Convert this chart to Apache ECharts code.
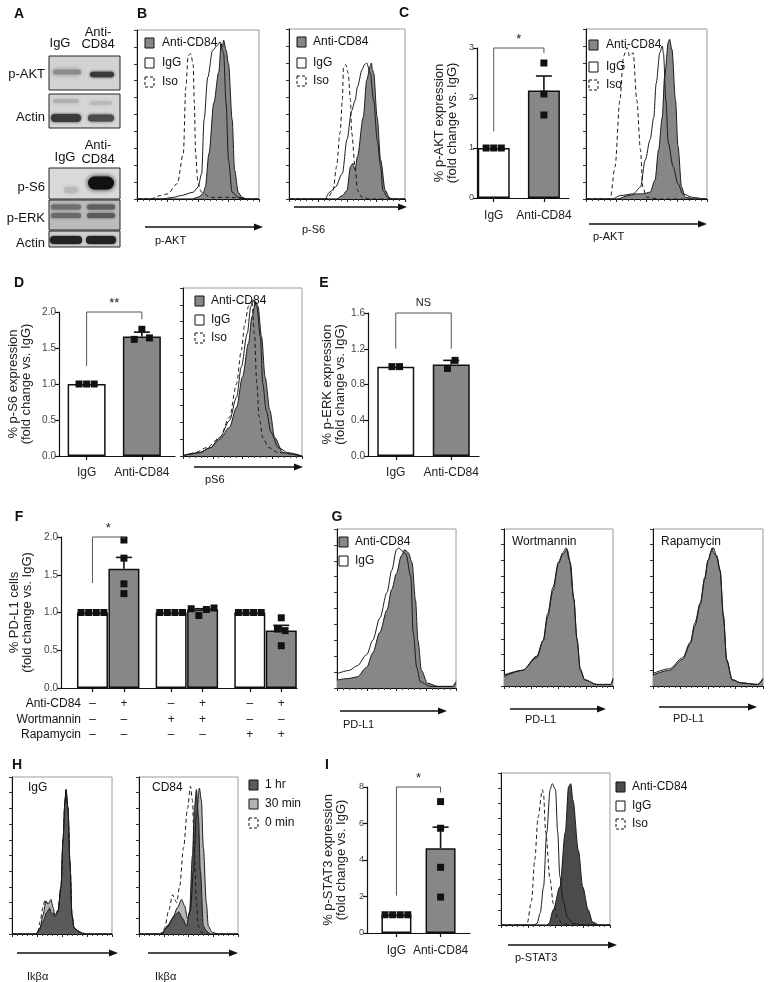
<!DOCTYPE html>
<html>
<head>
<meta charset="utf-8">
<script src="https://cdn.jsdelivr.net/npm/echarts@6/dist/echarts.min.js"></script>
<style>
  html, body { margin: 0; background: #fff; }
  #chart { width: 779px; height: 982px; }
</style>
</head>
<body>
<div id="chart"></div>
<script>
const FONT = '"Liberation Sans", Arial, Helvetica, sans-serif'

// ---------- bar chart data (fold change vs. IgG) ----------
const cLabels = ['IgG', 'Anti-CD84']
const cMeans = [1, 2.15]
const cErrTop = [1, 2.44]
const cPoints = [[1, 1, 1], [2.7, 2.08, 1.66]]
const cSig = [0, 1, 1.33, 3.0, 2.9, '*']

const dLabels = ['IgG', 'Anti-CD84']
const dMeans = [1, 1.66]
const dErrTop = [1, 1.72]
const dPoints = [[1, 1, 1], [1.62, 1.76, 1.64]]
const dSig = [0, 1, 1.25, 2.0, 1.9, '**']

const eLabels = ['IgG', 'Anti-CD84']
const eMeans = [1, 1.025]
const eErrTop = [1, 1.07]
const ePoints = [[1, 1], [0.98, 1.07]]
const eSig = [0, 1, 1.2, 1.6, 1.2, 'NS']

const fMeans = [1, 1.58, 1, 1.04, 1, 0.76]
const fErrTop = [1, 1.73, 1, 1.05, 1, 0.83]
const fPoints = [[1, 1, 1, 1], [1.96, 1.72, 1.38, 1.25], [1, 1, 1, 1], [1.05, 0.96, 1.04, 1.06], [1, 1, 1, 1], [0.93, 0.78, 0.76, 0.56]]
const fAnti = ['–', '+', '–', '+', '–', '+']
const fWort = ['–', '–', '+', '+', '–', '–']
const fRapa = ['–', '–', '–', '–', '+', '+']
const fSig = [0, 1, 1.39, 2.0, 1.97, '*']

const iLabels = ['IgG', 'Anti-CD84']
const iMeans = [1, 4.65]
const iErrTop = [1, 5.8]
const iPoints = [[1, 1, 1, 1], [7.2, 5.74, 3.6, 1.97]]
const iSig = [0, 1, 2.05, 8.0, 7.7, '*']

// ---------- flow histograms: [channel %, % of max] ----------
const b1Anti = [[0, 0], [45, 0], [50, 1], [54, 3], [56, 7], [59, 27], [63, 57], [67, 75], [69, 92], [70, 90], [71, 94], [73, 88], [75, 80], [78, 47], [80, 17], [83, 4], [86, 1], [90, 0], [100, 0]]
const b1IgG = [[0, 0], [20, 0], [30, 1], [36, 2], [46, 4], [50, 7], [53, 15], [55, 47], [58, 72], [62, 88], [66, 91], [68, 93], [69, 90], [71, 86], [73, 57], [75, 23], [78, 4], [83, 1], [90, 0], [100, 0]]
const b1Iso = [[0, 0], [11, 0], [19, 2], [25, 3], [33, 9], [38, 27], [40, 66], [42, 85], [44, 86], [46, 80], [47, 57], [48, 27], [50, 9], [53, 4], [60, 1], [75, 1], [90, 0], [100, 0]]

const b2Anti = [[0, 0], [41, 0], [46, 2], [50, 5], [53, 19], [55, 21], [57, 17], [59, 25], [64, 48], [67, 70], [70, 78], [71, 80], [72, 76], [73, 74], [76, 48], [79, 23], [83, 5], [87, 0], [100, 0]]
const b2IgG = [[0, 0], [31, 0], [35, 4], [40, 7], [46, 15], [50, 35], [54, 52], [57, 58], [59, 66], [63, 76], [65, 79], [67, 80], [70, 74], [73, 58], [76, 35], [79, 19], [81, 5], [85, 1], [90, 0], [100, 0]]
const b2Iso = [[0, 0], [33, 0], [38, 5], [41, 19], [44, 39], [46, 58], [47, 78], [49, 79], [51, 74], [53, 58], [54, 39], [57, 19], [59, 5], [63, 1], [70, 0], [100, 0]]

const cHAnti = [[0, 0], [26, 0], [35, 2], [42, 3], [47, 3], [53, 4], [57, 11], [60, 29], [63, 48], [65, 72], [68, 92], [69, 94], [71, 88], [74, 58], [76, 31], [79, 7], [82, 1], [90, 0], [100, 0]]
const cHIgG = [[0, 0], [22, 0], [28, 2], [39, 3], [45, 7], [49, 23], [53, 35], [56, 48], [58, 68], [61, 86], [63, 90], [64, 86], [66, 58], [68, 33], [72, 19], [76, 9], [80, 3], [88, 1], [98, 0], [100, 0]]
const cHIso = [[0, 0], [20, 0], [24, 19], [28, 58], [31, 84], [34, 89], [36, 84], [39, 86], [42, 58], [45, 29], [47, 7], [50, 1], [60, 0], [100, 0]]

const dHAnti = [[0, 0], [4, 1], [14, 2], [23, 5], [31, 10], [39, 17], [45, 29], [50, 47], [55, 67], [58, 83], [61, 92], [63, 89], [66, 71], [69, 47], [73, 27], [77, 11], [84, 2], [92, 1], [100, 0]]
const dHIgG = [[0, 0], [4, 1], [14, 2], [23, 5], [31, 11], [39, 21], [45, 35], [49, 53], [54, 73], [57, 89], [59, 93], [62, 89], [65, 71], [67, 43], [70, 27], [74, 14], [80, 5], [88, 2], [100, 0]]
const dHIso = [[0, 0], [4, 1], [10, 2], [20, 5], [31, 11], [39, 23], [45, 43], [49, 63], [52, 79], [55, 89], [58, 91], [60, 73], [62, 43], [64, 23], [67, 11], [72, 5], [80, 2], [100, 0]]

const g1Anti = [[0, 5], [10, 6], [17, 7], [25, 13], [30, 22], [36, 35], [42, 49], [46, 62], [50, 72], [54, 83], [57, 87], [60, 85], [63, 79], [66, 55], [68, 30], [71, 11], [76, 3], [85, 1], [97, 1], [100, 4]]
const g1IgG = [[0, 9], [10, 11], [17, 14], [25, 21], [30, 30], [36, 44], [42, 60], [46, 74], [50, 87], [52, 88], [55, 86], [58, 84], [62, 70], [64, 35], [67, 13], [70, 4], [78, 1], [97, 1], [100, 3]]
const g2Anti = [[0, 7], [17, 10], [30, 19], [36, 29], [40, 44], [45, 61], [50, 78], [54, 84], [58, 87], [61, 78], [64, 55], [67, 29], [70, 10], [74, 4], [85, 1], [98, 1], [100, 5]]
const g2IgG = [[0, 6], [17, 10], [30, 18], [36, 29], [40, 46], [45, 63], [50, 79], [54, 85], [57, 88], [60, 80], [64, 56], [67, 30], [70, 11], [74, 4], [85, 1], [98, 1], [100, 4]]
const g3Anti = [[0, 7], [15, 10], [27, 17], [34, 27], [38, 38], [43, 52], [47, 68], [50, 80], [54, 88], [55, 85], [58, 83], [61, 74], [64, 45], [67, 17], [72, 4], [80, 2], [95, 1], [100, 5]]
const g3IgG = [[0, 8], [15, 11], [27, 18], [34, 28], [38, 40], [43, 53], [47, 69], [50, 80], [53, 86], [55, 88], [58, 82], [61, 73], [64, 44], [67, 16], [72, 4], [80, 2], [95, 1], [100, 4]]

const h1Hr1 = [[0, 0], [24, 0], [27, 2], [31, 8], [35, 14], [37, 16], [40, 13], [43, 11], [46, 14], [49, 30], [51, 60], [53, 85], [54, 92], [56, 80], [58, 45], [60, 12], [62, 4], [64, 3], [68, 1], [72, 0], [100, 0]]
const h1Min30 = [[0, 0], [24, 0], [28, 4], [31, 12], [34, 21], [36, 19], [39, 22], [41, 17], [43, 12], [46, 15], [49, 30], [51, 60], [53, 85], [54, 92], [56, 80], [58, 45], [60, 12], [62, 4], [66, 2], [72, 0], [100, 0]]
const h1Min0 = [[0, 0], [26, 0], [28, 8], [31, 17], [33, 22], [35, 20], [37, 17], [40, 14], [43, 12], [46, 15], [49, 30], [51, 60], [53, 85], [54, 90], [56, 80], [58, 45], [60, 12], [62, 4], [68, 1], [75, 0], [100, 0]]
const h2Hr1 = [[0, 0], [20, 0], [24, 1], [30, 6], [36, 12], [40, 14], [44, 10], [48, 5], [51, 14], [54, 50], [56, 80], [58, 92], [60, 75], [62, 40], [65, 5], [68, 2], [72, 0], [100, 0]]
const h2Min30 = [[0, 0], [22, 0], [28, 4], [34, 10], [39, 17], [43, 22], [46, 18], [49, 10], [52, 15], [55, 40], [58, 75], [61, 93], [63, 85], [65, 55], [68, 20], [70, 5], [74, 1], [80, 0], [100, 0]]
const h2Min0 = [[0, 0], [24, 0], [26, 4], [30, 15], [34, 25], [36, 22], [38, 20], [41, 30], [45, 55], [49, 80], [52, 94], [54, 85], [56, 50], [58, 20], [60, 5], [63, 1], [70, 0], [100, 0]]

const iHAnti = [[0, 0], [42, 0], [44, 1], [48, 10], [54, 25], [59, 61], [62, 91], [64, 93], [66, 82], [71, 49], [75, 25], [80, 10], [84, 2], [90, 0], [100, 0]]
const iHIgG = [[0, 0], [30, 0], [33, 1], [36, 8], [39, 25], [42, 61], [45, 89], [47, 93], [50, 89], [52, 61], [54, 32], [57, 16], [61, 5], [66, 1], [75, 0], [100, 0]]
const iHIso = [[0, 0], [22, 0], [24, 1], [28, 16], [31, 43], [34, 71], [38, 89], [39, 86], [41, 61], [45, 30], [48, 14], [52, 5], [56, 1], [65, 0], [100, 0]]

// ---------- builders ----------
const grid = []
const xAxis = []
const yAxis = []
const series = []
const graphic = []

const GRAY = '#878787'
const DARK = '#4b4b4b'
const LIGHT = '#b4b4b4'

// points with overlapping values are spread sideways, like a scatter dot plot
function spreadPoints(vals, pxPerUnit) {
  const order = vals.map((v, k) => k).sort((a, b) => vals[a] - vals[b])
  const groups = []
  let cur = [order[0]]
  for (let n = 1; n < order.length; n++) {
    if ((vals[order[n]] - vals[order[n - 1]]) * pxPerUnit < 9) cur.push(order[n])
    else { groups.push(cur); cur = [order[n]] }
  }
  groups.push(cur)
  const dx = new Array(vals.length).fill(0)
  groups.forEach((g) => {
    g.sort((a, b) => a - b)
    g.forEach((k, j) => { dx[k] = (j - (g.length - 1) / 2) * 7.6 })
  })
  return dx
}

function addBarPanel(p) {
  const gi = grid.length
  grid.push({ left: p.box[0], top: p.box[1], width: p.box[2], height: p.box[3], outerBoundsMode: 'none' })
  const labelAt = {}
  p.slots.forEach((s, k) => { labelAt['s' + s] = p.labels[k] })
  const shown = (i) => p.slots.includes(i)
  xAxis.push({
    type: 'category', gridIndex: gi, boundaryGap: false,
    data: Array.from({ length: p.nSlots }, (_, i) => 's' + i),
    axisLine: { lineStyle: { color: '#111', width: 1.2 } },
    axisTick: { interval: shown, length: 4, lineStyle: { color: '#111', width: 1.2 } },
    axisLabel: {
      interval: shown, formatter: (v) => labelAt[v] || '',
      color: '#222', fontSize: 12, fontFamily: FONT, margin: p.catMargin || 10,
      lineHeight: p.catLineHeight || 14,
    },
    splitLine: { show: false },
  })
  yAxis.push({
    type: 'value', gridIndex: gi, min: 0, max: p.max, interval: p.interval,
    axisLine: { show: true, lineStyle: { color: '#111', width: 1.2 } },
    axisTick: { show: true, length: 4, lineStyle: { color: '#111', width: 1.2 } },
    axisLabel: { formatter: (v) => v.toFixed(p.decimals), color: '#444', fontSize: p.tickSize || 10, fontFamily: FONT, margin: 3 },
    splitLine: { show: false },
    name: p.yName, nameLocation: 'middle', nameRotate: 90, nameGap: p.nameGap,
    nameTextStyle: { color: '#222', fontSize: 13, lineHeight: 13, fontFamily: FONT },
  })
  series.push({
    type: 'bar', xAxisIndex: gi, yAxisIndex: gi, barWidth: p.barWidth, animation: false, z: 2,
    itemStyle: { borderColor: '#111', borderWidth: 1.5 },
    data: p.means.map((m, k) => ({ value: [p.slots[k], m], itemStyle: { color: p.colors[k] } })),
  })
  series.push({
    type: 'custom', xAxisIndex: gi, yAxisIndex: gi, animation: false, z: 3, clip: false,
    data: p.means.map((m, k) => [p.slots[k], m, p.errTop[k]]).filter((d) => d[2] > d[1]),
    renderItem: (params, api) => {
      const a = api.coord([api.value(0), api.value(1)])
      const b = api.coord([api.value(0), api.value(2)])
      const st = { stroke: '#111', lineWidth: 1.6 }
      return {
        type: 'group', children: [
          { type: 'line', shape: { x1: a[0], y1: a[1], x2: b[0], y2: b[1] }, style: st },
          { type: 'line', shape: { x1: b[0] - 8, y1: b[1], x2: b[0] + 8, y2: b[1] }, style: st },
        ],
      }
    },
  })
  const pxPerUnit = p.box[3] / p.max
  const pts = []
  p.points.forEach((vals, k) => {
    const dx = spreadPoints(vals, pxPerUnit)
    vals.forEach((v, j) => pts.push([p.slots[k], v, dx[j]]))
  })
  series.push({
    type: 'custom', xAxisIndex: gi, yAxisIndex: gi, animation: false, z: 4, clip: false,
    data: pts,
    renderItem: (params, api) => {
      const c = api.coord([api.value(0), api.value(1)])
      return { type: 'rect', shape: { x: c[0] + api.value(2) - 3.5, y: c[1] - 3.5, width: 7, height: 7 }, style: { fill: '#111' } }
    },
  })
  const s = p.sig
  series.push({
    type: 'custom', xAxisIndex: gi, yAxisIndex: gi, animation: false, z: 4, clip: false,
    data: [[p.slots[s[0]], s[2], s[3], p.slots[s[1]], s[4]]],
    renderItem: (params, api) => {
      const a = api.coord([api.value(0), api.value(1)])
      const t1 = api.coord([api.value(0), api.value(2)])
      const t2 = api.coord([api.value(3), api.value(2)])
      const b = api.coord([api.value(3), api.value(4)])
      return {
        type: 'group', children: [
          { type: 'polyline', shape: { points: [a, t1, t2, b] }, style: { stroke: '#555', lineWidth: 1, fill: 'none' } },
          {
            type: 'text', x: (t1[0] + t2[0]) / 2, y: t1[1] - (s[5] === 'NS' ? 5 : 2),
            style: { text: s[5], font: `${s[5] === 'NS' ? 11 : 13}px ${FONT}`, fill: '#222', align: 'center', verticalAlign: 'bottom' },
          },
        ],
      }
    },
  })
}

function addHist(box, curves) {
  const gi = grid.length
  grid.push({ left: box[0], top: box[1], width: box[2], height: box[3], show: true, borderColor: '#9c9c9c', borderWidth: 1, outerBoundsMode: 'none' })
  xAxis.push({
    type: 'value', gridIndex: gi, min: 0, max: 100, interval: 25,
    axisLine: { lineStyle: { color: '#111', width: 1.2 } },
    axisTick: { length: 3, lineStyle: { color: '#222' } },
    minorTick: { show: true, splitNumber: 5, length: 2, lineStyle: { color: '#444' } },
    axisLabel: { show: false }, splitLine: { show: false }, minorSplitLine: { show: false },
  })
  yAxis.push({
    type: 'value', gridIndex: gi, min: 0, max: 100, interval: 10,
    axisLine: { show: true, lineStyle: { color: '#111', width: 1 } },
    axisTick: { show: true, length: 3, lineStyle: { color: '#333' } },
    axisLabel: { show: false }, splitLine: { show: false },
  })
  curves.forEach((c) => series.push({
    type: 'line', name: c.name, xAxisIndex: gi, yAxisIndex: gi, data: c.data,
    symbol: 'none', smooth: 0.3, smoothMonotone: 'x', animation: false, z: 2,
    lineStyle: { color: '#1a1a1a', width: 1, type: c.dashed ? [4, 3] : 'solid' },
    areaStyle: c.fill ? { color: c.fill, opacity: 1 } : undefined,
  }))
}

function txt(text, x, y, size, opt = {}) {
  graphic.push({
    type: 'text', x, y, z: 100,
    style: { text, fill: opt.fill || '#111', font: `${opt.bold ? 'bold ' : ''}${size}px ${FONT}`, align: opt.align || 'left', verticalAlign: 'middle' },
  })
}

function arrow(x1, x2, y) {
  graphic.push({ type: 'line', z: 100, shape: { x1, y1: y, x2: x2 - 6, y2: y }, style: { stroke: '#111', lineWidth: 1.6 } })
  graphic.push({ type: 'polygon', z: 100, shape: { points: [[x2 - 9, y - 3.5], [x2, y], [x2 - 9, y + 3.5]] }, style: { fill: '#111' } })
}

function legend(x, ys, items, textX) {
  items.forEach((it, k) => {
    graphic.push({
      type: 'rect', z: 100, shape: { x, y: ys[k] - 5, width: 9, height: 10 },
      style: { fill: it.fill || '#fff', stroke: '#111', lineWidth: 1, lineDash: it.dashed ? [3, 2] : null },
    })
    txt(it.name, textX, ys[k], 12)
  })
}

function blot(x, y, w, h, bg, bands) {
  graphic.push({ type: 'rect', z: 90, shape: { x, y, width: w, height: h }, style: { fill: bg, stroke: '#222', lineWidth: 1 } })
  bands.forEach((b) => graphic.push({
    type: 'rect', z: 91,
    shape: { x: b[0] - b[2], y: b[1] - b[3], width: 2 * b[2], height: 2 * b[3], r: b[3] },
    style: { fill: b[4], shadowBlur: b[5] || 4, shadowColor: b[4] },
  }))
}

// ---------- panels ----------
const antiLeg = { name: 'Anti-CD84', fill: GRAY }
const iggLeg = { name: 'IgG' }
const isoLeg = { name: 'Iso', dashed: true }

// B
addHist([137, 30, 122, 169], [
  { name: 'Anti-CD84', data: b1Anti, fill: GRAY },
  { name: 'IgG', data: b1IgG },
  { name: 'Iso', data: b1Iso, dashed: true },
])
addHist([289, 29, 116, 170], [
  { name: 'Anti-CD84', data: b2Anti, fill: GRAY },
  { name: 'IgG', data: b2IgG },
  { name: 'Iso', data: b2Iso, dashed: true },
])
// C
addBarPanel({
  box: [477, 48, 92, 150], nSlots: 12, slots: [2, 8], barWidth: 32,
  labels: cLabels, means: cMeans, errTop: cErrTop, points: cPoints, sig: cSig,
  colors: ['#fff', GRAY], max: 3, interval: 1, decimals: 0, tickSize: 9,
  yName: '% p-AKT expression\n(fold change vs. IgG)', nameGap: 18, catMargin: 11,
})
addHist([586, 29, 121, 170], [
  { name: 'Anti-CD84', data: cHAnti, fill: GRAY },
  { name: 'IgG', data: cHIgG },
  { name: 'Iso', data: cHIso, dashed: true },
])
// D
addBarPanel({
  box: [59, 312, 116, 144], nSlots: 22, slots: [5, 15], barWidth: 38,
  labels: dLabels, means: dMeans, errTop: dErrTop, points: dPoints, sig: dSig,
  colors: ['#fff', GRAY], max: 2, interval: 0.5, decimals: 1,
  yName: '% p-S6 expression\n(fold change vs. IgG)', nameGap: 26,
})
addHist([183, 288, 119, 168], [
  { name: 'Anti-CD84', data: dHAnti, fill: GRAY },
  { name: 'IgG', data: dHIgG },
  { name: 'Iso', data: dHIso, dashed: true },
])
// E
addBarPanel({
  box: [368, 313, 111, 143], nSlots: 5, slots: [1, 3], barWidth: 37,
  labels: eLabels, means: eMeans, errTop: eErrTop, points: ePoints, sig: eSig,
  colors: ['#fff', GRAY], max: 1.6, interval: 0.4, decimals: 1,
  yName: '% p-ERK expression\n(fold change vs. IgG)', nameGap: 21,
})
// F
addBarPanel({
  box: [61, 537, 236, 151], nSlots: 16, slots: [2, 4, 7, 9, 12, 14], barWidth: 31,
  labels: fAnti.map((a, k) => `${a}\n${fWort[k]}\n${fRapa[k]}`),
  means: fMeans, errTop: fErrTop, points: fPoints, sig: fSig,
  colors: ['#fff', GRAY, '#fff', GRAY, '#fff', GRAY], max: 2, interval: 0.5, decimals: 1,
  yName: '% PD-L1 cells\n(fold change vs. IgG)', nameGap: 27, catMargin: 8, catLineHeight: 15.5,
})
// G
addHist([337, 529, 119, 159], [
  { name: 'Anti-CD84', data: g1Anti, fill: GRAY },
  { name: 'IgG', data: g1IgG },
])
addHist([504, 529, 109, 157], [
  { name: 'Anti-CD84', data: g2Anti, fill: GRAY },
  { name: 'IgG', data: g2IgG },
])
addHist([653, 529, 110, 157], [
  { name: 'Anti-CD84', data: g3Anti, fill: GRAY },
  { name: 'IgG', data: g3IgG },
])
// H
addHist([12, 777, 100, 157], [
  { name: '30 min', data: h1Min30, fill: LIGHT },
  { name: '1 hr', data: h1Hr1, fill: '#5a5a5a' },
  { name: '0 min', data: h1Min0, dashed: true },
])
addHist([139, 777, 99, 157], [
  { name: '30 min', data: h2Min30, fill: LIGHT },
  { name: '1 hr', data: h2Hr1, fill: '#5a5a5a' },
  { name: '0 min', data: h2Min0, dashed: true },
])
// I
addBarPanel({
  box: [367, 787, 103, 146], nSlots: 8, slots: [2, 5], barWidth: 30,
  labels: iLabels, means: iMeans, errTop: iErrTop, points: iPoints, sig: iSig,
  colors: ['#fff', GRAY], max: 8, interval: 2, decimals: 0, tickSize: 9,
  yName: '% p-STAT3 expression\n(fold change vs. IgG)', nameGap: 19, catMargin: 11,
})
addHist([501, 773, 109, 152], [
  { name: 'Anti-CD84', data: iHAnti, fill: DARK },
  { name: 'IgG', data: iHIgG },
  { name: 'Iso', data: iHIso, dashed: true },
])

// ---------- panel letters ----------
;[['A', 19, 14], ['B', 142, 14], ['C', 404, 13], ['D', 19, 283], ['E', 324, 283],
  ['F', 19, 517], ['G', 337, 517], ['H', 17, 765], ['I', 327, 765]]
  .forEach(([t, x, y]) => txt(t, x, y, 14, { bold: true, align: 'center' }))

// ---------- A: western blots ----------
txt('IgG', 60, 43, 13, { align: 'center' })
txt('Anti-', 98, 32, 13, { align: 'center' })
txt('CD84', 98, 44, 13, { align: 'center' })
txt('IgG', 65, 157, 13, { align: 'center' })
txt('Anti-', 98, 145, 13, { align: 'center' })
txt('CD84', 98, 159, 13, { align: 'center' })
txt('p-AKT', 45, 74, 13, { align: 'right' })
txt('Actin', 45, 117, 13, { align: 'right' })
txt('p-S6', 45, 187, 13, { align: 'right' })
txt('p-ERK', 45, 218, 13, { align: 'right' })
txt('Actin', 45, 243, 13, { align: 'right' })
blot(49, 56, 71, 34, '#d3d3d3', [[67, 72, 14, 2.5, '#8c8c8c', 5], [102, 74.5, 12, 2.8, '#3a3a3a', 3]])
blot(49, 94, 71, 34, '#d6d6d6', [[66, 101, 13, 2, '#b0b0b0', 4], [101, 103, 11, 1.8, '#b8b8b8', 4], [66, 118, 15, 4, '#3a3a3a', 3], [101, 118, 13, 3.5, '#4c4c4c', 3]])
blot(49, 168, 71, 31, '#dadada', [[71, 190, 7, 3, '#b9b9b9', 5], [101, 183, 13, 6.5, '#111', 5]])
blot(49, 200, 71, 30, '#bcbcbc', [[66, 207, 15, 2.5, '#6e6e6e', 3], [101, 207, 14, 2.5, '#5e5e5e', 3], [66, 215.5, 15, 2.5, '#6a6a6a', 3], [101, 215.5, 14, 2.5, '#5a5a5a', 3]])
blot(49, 231, 71, 16, '#cfcfcf', [[66, 240, 16, 4, '#222', 2], [101, 240, 15, 4, '#222', 2]])

// ---------- histogram legends, arrows and labels ----------
legend(145, [43, 63, 82], [antiLeg, iggLeg, isoLeg], 162)
arrow(145, 263, 227)
txt('p-AKT', 155, 241, 11)

legend(297, [42, 63, 81], [antiLeg, iggLeg, isoLeg], 313)
arrow(294, 407, 207)
txt('p-S6', 302, 230, 11)

legend(589, [45, 67, 85], [antiLeg, iggLeg, isoLeg], 606)
arrow(589, 707, 224)
txt('p-AKT', 593, 237, 11)

legend(195, [301, 320, 338], [antiLeg, iggLeg, isoLeg], 211)
arrow(194, 303, 467)
txt('pS6', 205, 480, 11)

legend(339, [542, 561], [antiLeg, iggLeg], 355)
arrow(340, 447, 711)
txt('PD-L1', 343, 725, 11)
txt('Wortmannin', 512, 542, 12)
arrow(510, 606, 709)
txt('PD-L1', 525, 720, 11)
txt('Rapamycin', 661, 542, 12)
arrow(659, 757, 707)
txt('PD-L1', 673, 719, 11)

// F condition rows
txt('Anti-CD84', 81, 704, 12, { align: 'right' })
txt('Wortmannin', 81, 719.5, 12, { align: 'right' })
txt('Rapamycin', 81, 735, 12, { align: 'right' })

// H
txt('IgG', 28, 788, 12)
txt('CD84', 152, 788, 12)
legend(249, [785, 804, 823], [{ name: '1 hr', fill: '#5a5a5a' }, { name: '30 min', fill: LIGHT }, { name: '0 min', dashed: true }], 265)
arrow(17, 118, 953)
txt('Ikβα', 27, 977, 11)
arrow(148, 238, 953)
txt('Ikβα', 155, 977, 11)

// I
legend(616, [787, 806, 824], [{ name: 'Anti-CD84', fill: DARK }, iggLeg, isoLeg], 632)
arrow(508, 617, 945)
txt('p-STAT3', 515, 958, 11)

const chart = echarts.init(document.getElementById('chart'), null, { renderer: 'canvas' })
chart.setOption({
  backgroundColor: '#fff',
  animation: false,
  textStyle: { fontFamily: FONT },
  grid, xAxis, yAxis, series,
  graphic: { elements: graphic },
})
</script>
</body>
</html>
